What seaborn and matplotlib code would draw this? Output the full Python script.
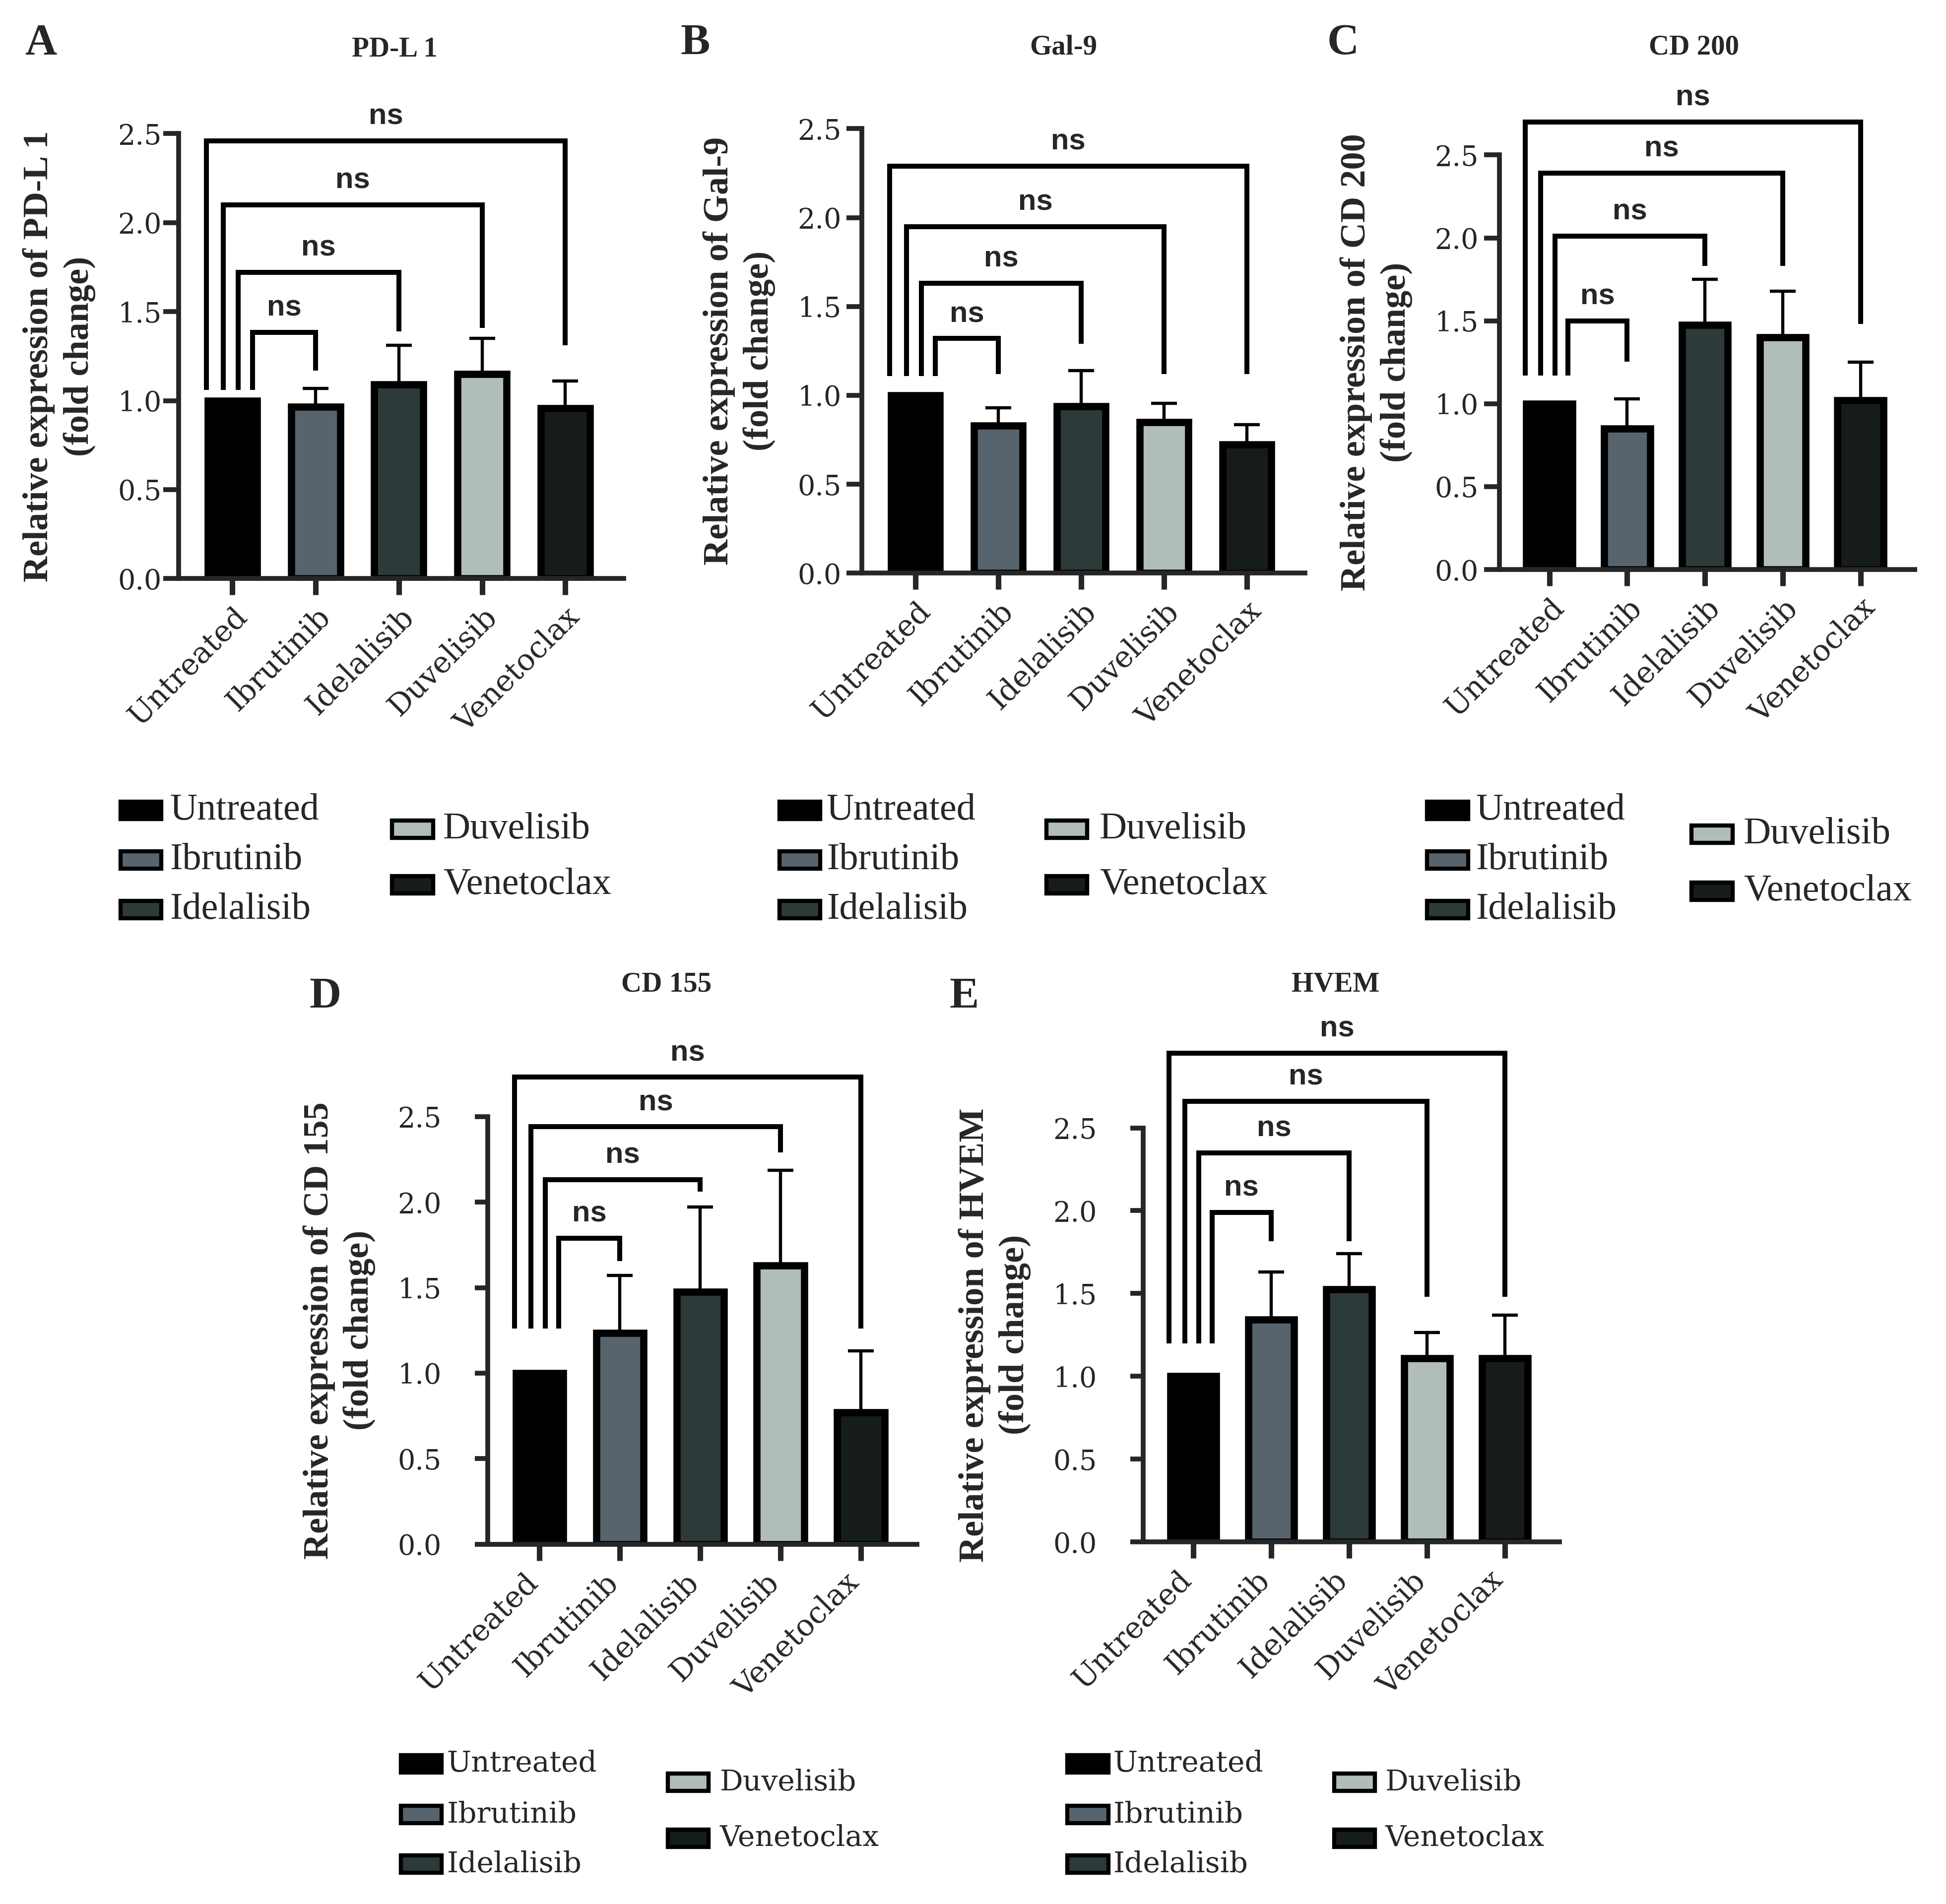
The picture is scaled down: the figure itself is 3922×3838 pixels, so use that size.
import matplotlib
matplotlib.use("Agg")
import numpy as np
import pandas as pd
import seaborn as sns
import matplotlib.pyplot as plt
import matplotlib.transforms as mtransforms
from matplotlib.patches import Rectangle

# categories and colours
treatments = ["Untreated", "Ibrutinib", "Idelalisib", "Duvelisib", "Venetoclax"]
bar_colors = ["#000000", "#57646e", "#2d3a3a", "#b0bdb9", "#161c1c"]
ytick_values = [0.0, 0.5, 1.0, 1.5, 2.0, 2.5]

# fold change means and upper error
pdl1_mean = [1.00, 0.965, 1.09, 1.15, 0.957]
pdl1_err = [0.0, 0.105, 0.22, 0.20, 0.153]
gal9_mean = [1.00, 0.83, 0.94, 0.85, 0.725]
gal9_err = [0.0, 0.10, 0.20, 0.105, 0.11]
cd200_mean = [1.00, 0.85, 1.475, 1.40, 1.02]
cd200_err = [0.0, 0.18, 0.275, 0.28, 0.23]
cd155_mean = [1.00, 1.236, 1.476, 1.63, 0.77]
cd155_err = [0.0, 0.334, 0.494, 0.555, 0.36]
hvem_mean = [1.00, 1.343, 1.525, 1.11, 1.11]
hvem_err = [0.0, 0.287, 0.215, 0.155, 0.26]

# significance brackets vs Untreated (Ibrutinib, Idelalisib, Duvelisib, Venetoclax)
sig_labels = ["ns", "ns", "ns", "ns"]
pdl1_bracket = [1.385, 1.72, 2.10, 2.46]
pdl1_feet = [1.17, 1.39, 1.41, 1.31]
gal9_bracket = [1.32, 1.63, 1.95, 2.29]
gal9_feet = [1.12, 1.29, 1.12, 1.12]
cd200_bracket = [1.50, 2.01, 2.39, 2.70]
cd200_feet = [1.255, 1.83, 1.83, 1.48]
cd155_bracket = [1.79, 2.13, 2.44, 2.73]
cd155_feet = [1.655, 2.06, 2.29, 1.26]
hvem_bracket = [1.99, 2.35, 2.66, 2.95]
hvem_feet = [1.815, 1.815, 1.48, 1.48]

W, H = 1568.0, 1534.0  # layout measured on the shrunk reference


def fx(x):
    return x / W


def fy(y):
    return 1 - y / H


def draw_panel(fig, box, letter, letter_xy, gene, title_xy, means, errs,
               brackets, feet, left_foot, legend_pos, legend_font,
               ytick_pad=3, xlabel_shift=0):
    x0, x1, ytop, ybot = box
    ax = fig.add_axes([fx(x0), fy(ybot), fx(x1) - fx(x0), fy(ytop) - fy(ybot)])
    df = pd.DataFrame({"treatment": treatments, "fold_change": means})
    sns.barplot(data=df, x="treatment", y="fold_change", hue="treatment",
                palette=bar_colors, saturation=1, width=0.59, errorbar=None,
                edgecolor="black", linewidth=10.5, legend=False, ax=ax)

    xs = np.arange(len(treatments))
    ax.errorbar(xs[1:], means[1:], yerr=[np.zeros(len(xs) - 1), errs[1:]],
                fmt="none", ecolor="black", elinewidth=4.6, capsize=19, capthick=4.6)

    # brackets
    left_offsets = [0.24, 0.07, -0.11, -0.31]
    for i, (h, foot) in enumerate(zip(brackets, feet)):
        xl, xr = left_offsets[i], i + 1
        ax.plot([xl, xl, xr, xr], [left_foot, h, h, foot], color="black", lw=7.2,
                clip_on=False, solid_joinstyle="miter", solid_capstyle="butt")
        ax.annotate(sig_labels[i], xy=((xl + xr) / 2, h), xytext=(0, 24),
                    textcoords="offset points", ha="center", va="baseline",
                    fontsize=43, fontweight="bold", family="Liberation Sans",
                    annotation_clip=False)

    ax.set_xlim(-0.645, 4.70)
    ax.set_ylim(0, 2.5)
    ax.set_yticks(ytick_values)
    ax.set_yticklabels([f"{v:.1f}" for v in ytick_values], family="DejaVu Serif", fontsize=40)
    ax.set_xticks(xs)
    ax.set_xticklabels(treatments, rotation=45, ha="right", rotation_mode="anchor",
                       family="DejaVu Serif", fontsize=43)
    ax.set_xlabel("")
    ax.set_ylabel(f"Relative expression of {gene}\n(fold change)", fontsize=52,
                  fontweight="bold", family="Liberation Serif", labelpad=32, linespacing=1.3)
    sns.despine(ax=ax)
    for side in ["left", "bottom"]:
        ax.spines[side].set_linewidth(7)
    ax.tick_params(axis="x", length=24, width=8, pad=10)
    ax.tick_params(axis="y", length=22 if ytick_pad < 10 else 19, width=7, pad=ytick_pad)

    # lower panels have their category labels set a little to the left
    if xlabel_shift:
        shift = mtransforms.ScaledTranslation(xlabel_shift / 72, 0, fig.dpi_scale_trans)
        for lab in ax.get_xticklabels():
            lab.set_transform(lab.get_transform() + shift)

    fig.text(fx(letter_xy[0]), fy(letter_xy[1]), letter, ha="center", va="center",
             fontsize=64, fontweight="bold", family="Liberation Serif")
    fig.text(fx(title_xy[0]), fy(title_xy[1]), gene, ha="center", va="center",
             fontsize=41, fontweight="bold", family="Liberation Serif")

    # legend: three entries left, two entries right
    (p1, t1, rows1), (p2, t2, rows2) = legend_pos
    entries = [(p1, t1, r) for r in rows1] + [(p2, t2, r) for r in rows2]
    fam, size = legend_font
    for (px, tx, ry), name, col in zip(entries, treatments, bar_colors):
        fig.add_artist(Rectangle((fx(px), fy(ry + 7)), 33 / W, 14 / H, transform=fig.transFigure,
                                 facecolor=col, edgecolor="black", linewidth=6))
        fig.text(fx(tx), fy(ry), name, ha="left", va="center", family=fam, fontsize=size)
    return ax


sns.set_style("ticks")
plt.rcParams["font.family"] = ["DejaVu Serif", "DejaVu Sans"]

fig = plt.figure(figsize=(39.22, 38.38), dpi=100)

narrow = ("Liberation Serif", 55)
wide = ("DejaVu Serif", 42)

draw_panel(fig, (144, 502.5, 107.7, 466.2), "A", (33, 35), "PD-L 1", (318, 40),
           pdl1_mean, pdl1_err, pdl1_bracket, pdl1_feet, 1.06,
           ((97, 137, [653, 693, 733]), (316, 357, [668, 713])), narrow)
draw_panel(fig, (694.6, 1051.5, 103.7, 461.8), "B", (560, 35), "Gal-9", (857, 38),
           gal9_mean, gal9_err, gal9_bracket, gal9_feet, 1.11,
           ((628, 666, [653, 693, 733]), (843, 886, [668, 713])), narrow, ytick_pad=8)
draw_panel(fig, (1208, 1543, 124.9, 458.9), "C", (1082, 35), "CD 200", (1365, 38),
           cd200_mean, cd200_err, cd200_bracket, cd200_feet, 1.17,
           ((1150, 1189, [653, 693, 733]), (1363, 1405, [672, 718])), narrow, ytick_pad=8)
draw_panel(fig, (393, 739, 899.6, 1244.1), "D", (262, 803), "CD 155", (537, 793),
           cd155_mean, cd155_err, cd155_bracket, cd155_feet, 1.26,
           ((323, 360, [1421, 1462, 1502]), (538, 580, [1436, 1481])), wide,
           ytick_pad=48, xlabel_shift=-24)
draw_panel(fig, (921, 1256.5, 908.7, 1242.3), "E", (777, 803), "HVEM", (1076, 793),
           hvem_mean, hvem_err, hvem_bracket, hvem_feet, 1.20,
           ((860, 897, [1421, 1462, 1502]), (1075, 1116, [1436, 1481])), wide,
           ytick_pad=48, xlabel_shift=-24)

fig.savefig("out.png", dpi=100)
